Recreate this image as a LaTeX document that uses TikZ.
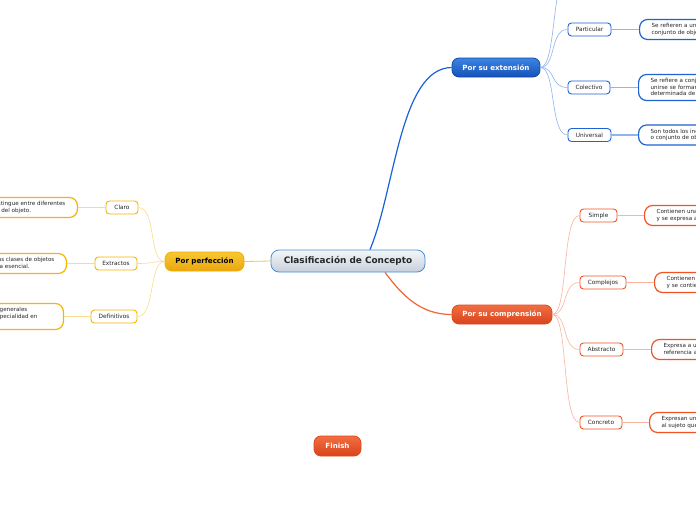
\documentclass[tikz,border=0pt]{standalone}
\usepackage{fontspec}
\setmainfont{DejaVu Sans}
\definecolor{bluedk}{HTML}{0C4AA8}
\definecolor{bluetop}{HTML}{3D84E2}
\definecolor{bluebot}{HTML}{1452B8}
\definecolor{bluec}{HTML}{1F63D3}
\definecolor{bluemainline}{HTML}{1A62D8}
\definecolor{bluefan}{HTML}{8FB5EC}
\definecolor{orgdk}{HTML}{E0491C}
\definecolor{orgtop}{HTML}{F26E42}
\definecolor{orgbot}{HTML}{D9431B}
\definecolor{orgc}{HTML}{F05424}
\definecolor{orgmainline}{HTML}{F06535}
\definecolor{orgfan}{HTML}{F9B4A0}
\definecolor{yeldk}{HTML}{F0AE00}
\definecolor{yeltop}{HTML}{F7C833}
\definecolor{yelbot}{HTML}{EBA60E}
\definecolor{yelc}{HTML}{F7B500}
\definecolor{yelmainline}{HTML}{F7C64A}
\definecolor{yelfan}{HTML}{FBDC8C}
\definecolor{cenborder}{HTML}{4A8FD4}
\definecolor{centop}{HTML}{F4F6F9}
\definecolor{cenbot}{HTML}{C6D0DB}
\definecolor{txt}{HTML}{262626}
\begin{document}
\begin{tikzpicture}[x=1pt,y=-1pt,
  mainnode/.style={rounded corners=7pt, draw, line width=0.8pt, inner sep=0pt,
    minimum height=19pt, font=\fontsize{7.1}{8}\selectfont\bfseries, text=white},
  bluemain/.style={mainnode, top color=bluetop, bottom color=bluebot, draw=bluedk},
  orgmain/.style={mainnode, top color=orgtop, bottom color=orgbot, draw=orgdk},
  yelmain/.style={mainnode, top color=yeltop, bottom color=yelbot, draw=yeldk, text=black},
  cennode/.style={rounded corners=8pt, draw=cenborder, line width=0.8pt, inner sep=0pt,
    top color=centop, bottom color=cenbot, minimum height=22pt, minimum width=154pt,
    font=\fontsize{8.9}{10}\selectfont\bfseries, text=black!85},
  childnode/.style={rounded corners=3.5pt, draw, line width=0.9pt, fill=white, inner sep=0pt,
    minimum height=13pt, font=\fontsize{5.8}{6.5}\selectfont, text=txt},
  detailnode/.style={rounded corners=8pt, draw, line width=1.2pt, fill=white, align=left,
    inner xsep=12pt, inner ysep=1pt, font=\fontsize{5.6}{6.6}\selectfont, text=txt},
  rdetail/.style={detailnode, anchor=west, text width=120pt},
  ldetail/.style={detailnode, anchor=east},
  fanblue/.style={draw=bluefan, line width=0.6pt},
  fanorg/.style={draw=orgfan, line width=0.6pt},
  fanyel/.style={draw=yelfan, line width=0.6pt},
  linkblue/.style={draw=bluefan, line width=1.5pt},
  linkorg/.style={draw=orgfan, line width=1.5pt},
  linkyel/.style={draw=yelfan, line width=1.5pt}]
\useasboundingbox (0,0) rectangle (696,520);
\fill[white] (0,0) rectangle (696,520);
\clip (0,0) rectangle (696,520);

% central and main nodes
\node[cennode] (cen) at (348,261) {Clasificación de Concepto};
\node[bluemain, minimum width=88pt] (ext) at (496,67.5) {Por su extensión};
\node[orgmain, minimum width=100pt] (comp) at (502,314.5) {Por su comprensión};
\node[yelmain, minimum width=79pt] (perf) at (204.5,261.5) {Por perfección};
\node[orgmain, minimum width=47pt, minimum height=20pt] (fin) at (337.5,446) {Finish};

% main connectors
\draw[draw=bluemainline, line width=1.2pt] ([xshift=22pt]cen.north) .. controls (395,190) and (400,68) .. (ext.west);
\draw[draw=orgmainline, line width=1.2pt] ([xshift=37pt]cen.south) .. controls (402,295) and (420,314.5) .. (comp.west);
\draw[draw=yelmainline, line width=0.8pt] (cen.west) -- (perf.east);

% extension children
\coordinate (ext0) at (568,-28);
\node[childnode, draw=bluec, minimum width=43pt] (part) at (589.5,29.5) {Particular};
\node[childnode, draw=bluec, minimum width=42pt] (cole) at (589,87.5) {Colectivo};
\node[childnode, draw=bluec, minimum width=43pt] (univ) at (589.5,135) {Universal};
\draw[fanblue] (ext.east) .. controls +(16,0) and +(-16,0) .. (ext0);
\draw[fanblue] (ext.east) .. controls +(16,0) and +(-18,0) .. (part.west);
\draw[fanblue] (ext.east) .. controls +(16,0) and +(-18,0) .. (cole.west);
\draw[fanblue] (ext.east) .. controls +(16,0) and +(-18,0) .. (univ.west);
\node[rdetail, draw=bluec, minimum height=20pt] (dpart) at (639,29.5) {Se refieren a un solo objeto o a un\\conjunto de objetos determinado.};
\node[rdetail, draw=bluec, minimum height=26pt] (dcole) at (638,87.5) {Se refiere a conjuntos que al\\unirse se forman en una clase\\determinada de objetos.};
\node[rdetail, draw=bluec, minimum height=20pt] (duniv) at (638,135) {Son todos los individuos de una clase\\o conjunto de objetos.};
\draw[linkblue] (part) -- (dpart);
\draw[linkblue] (cole) -- (dcole);
\draw[linkblue] (univ) -- (duniv);

% comprension children
\node[childnode, draw=orgc, minimum width=37pt] (simp) at (598.5,215.5) {Simple};
\node[childnode, draw=orgc, minimum width=46pt] (compl) at (603,282.5) {Complejos};
\node[childnode, draw=orgc, minimum width=43pt] (abst) at (601.5,349.5) {Abstracto};
\node[childnode, draw=orgc, minimum width=42pt] (conc) at (601,422.5) {Concreto};
\draw[fanorg] (comp.east) .. controls +(16,0) and +(-18,0) .. (simp.west);
\draw[fanorg] (comp.east) .. controls +(16,0) and +(-18,0) .. (compl.west);
\draw[fanorg] (comp.east) .. controls +(16,0) and +(-18,0) .. (abst.west);
\draw[fanorg] (comp.east) .. controls +(16,0) and +(-18,0) .. (conc.west);
\node[rdetail, draw=orgc, minimum height=20pt] (dsimp) at (644,215.5) {Contienen una sola nota\\y se expresa a través de un término.};
\node[rdetail, draw=orgc, minimum height=20pt] (dcompl) at (654,282.5) {Contienen varias notas\\y se contienen en un juicio.};
\node[rdetail, draw=orgc, minimum height=20pt] (dabst) at (651,349.5) {Expresa a una cualidad sin\\referencia al sujeto.};
\node[rdetail, draw=orgc, minimum height=20pt] (dconc) at (649,422.5) {Expresan una cualidad unida\\al sujeto que la posee.};
\draw[linkorg] (simp) -- (dsimp);
\draw[linkorg] (compl) -- (dcompl);
\draw[linkorg] (abst) -- (dabst);
\draw[linkorg] (conc) -- (dconc);

% perfeccion children
\node[childnode, draw=yelc, minimum width=32pt] (claro) at (122,207.5) {Claro};
\node[childnode, draw=yelc, minimum width=42pt] (extr) at (116,263.5) {Extractos};
\node[childnode, draw=yelc, minimum width=46pt] (defi) at (114,316.5) {Definitivos};
\draw[fanyel] (perf.west) .. controls +(-16,0) and +(18,0) .. (claro.east);
\draw[fanyel] (perf.west) .. controls +(-16,0) and +(18,0) .. (extr.east);
\draw[fanyel] (perf.west) .. controls +(-16,0) and +(18,0) .. (defi.east);
\node[ldetail, draw=yelc, minimum height=20pt] (dclaro) at (78,207.5) {Se distingue entre diferentes\\notas del objeto.};
\node[ldetail, draw=yelc, minimum height=20pt] (dextr) at (67,263.5) {Separan las clases de objetos\\por su nota esencial.};
\node[ldetail, draw=yelc, minimum height=26pt, inner xsep=26pt] (ddefi) at (64,316.5) {Contienen las notas generales\\y también toda la especialidad en\\el objeto.};
\draw[linkyel] (claro) -- (dclaro);
\draw[linkyel] (extr) -- (dextr);
\draw[linkyel] (defi) -- (ddefi);
\end{tikzpicture}
\end{document}
